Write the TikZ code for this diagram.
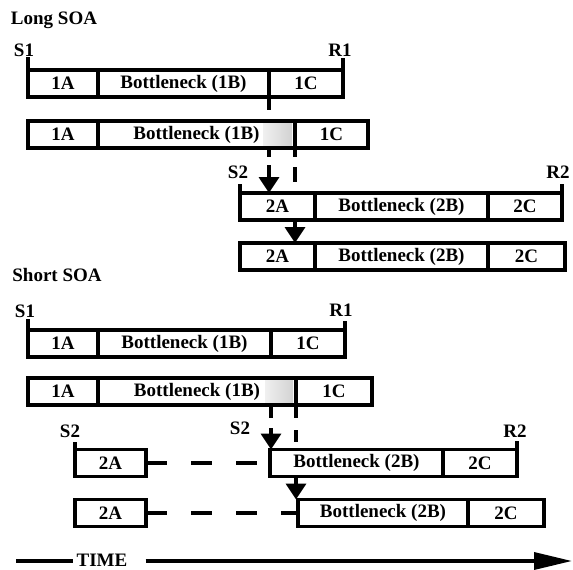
\documentclass[tikz,border=0pt]{standalone}
\usepackage{fontspec}
\setmainfont{Liberation Serif}
\usetikzlibrary{arrows.meta}

\begin{document}
\begin{tikzpicture}[x=1pt, y=-1pt,
    every node/.style={font=\fontsize{19}{20}\selectfont\bfseries},
    cell/.style={draw, line width=3.5pt, minimum height=27pt, inner sep=0pt, outer sep=0pt},
    bar/.style={line width=3.5pt},
    dashbar/.style={line width=3.5pt, dash pattern=on 21pt off 24pt},
    downarrow/.style={line width=3.5pt, -{Triangle[width=20pt, length=16pt]}}]
  \useasboundingbox (0,0) rectangle (573,570);
  % grey ends of the bottleneck stages
  \shade[left color=gray!12, right color=gray!35] (263,122.75) rectangle (292,146.25);
  \shade[left color=gray!12, right color=gray!35] (265,379.75) rectangle (293,403.25);
  % stages
  \foreach \nm/\xa/\xb/\yc/\txt in {
      a1/28/98/83.5/1A, b1/98/269/83.5/Bottleneck (1B), c1/269/343/83.5/1C,
      a2/28/98/134.5/1A, b2/98/295/134.5/Bottleneck (1B), c2/295/368/134.5/1C,
      a3/240/315/206.5/2A, b3/315/488/206.5/Bottleneck (2B), c3/488/562/206.5/2C,
      a4/240/315/256.5/2A, b4/315/488/256.5/Bottleneck (2B), c4/488/565/256.5/2C,
      a5/28/98/343.5/1A, b5/98/271/343.5/Bottleneck (1B), c5/271/345/343.5/1C,
      a6/28/98/391.5/1A, b6/98/296/391.5/Bottleneck (1B), c6/296/372/391.5/1C,
      a7/75/146/463/2A, b7/270/443/463/Bottleneck (2B), c7/443/517/463/2C,
      a8/75/146/513/2A, b8/298/468/513/Bottleneck (2B), c8/468/544/513/2C} {
    \node[cell, minimum width={(\xb-\xa)*1pt}] (\nm) at ({(\xa+\xb)/2},\yc) {\txt};
  }
  % labels
  \node (longsoa) at (54,20) {Long SOA};
  \node (shortsoa) at (57,275) {Short SOA};
  \node (s1l) at (24,50) {S1};
  \node (r1l) at (340,50) {R1};
  \node (s2l) at (238,172) {S2};
  \node (r2l) at (558,172) {R2};
  \node (s1s) at (25,311) {S1};
  \node (r1s) at (341,310) {R1};
  \node (s2sa) at (70,431) {S2};
  \node (s2sb) at (240,428) {S2};
  \node (r2s) at (515,431) {R2};
  % onset and response ticks
  \draw[bar] (a1.north west) -- ++(0,-13);
  \draw[bar] (c1.north east) -- ++(0,-12);
  \draw[bar] (c1.south west) -- ++(0,13);
  \draw[bar] (a3.north west) -- ++(0,-9);
  \draw[bar] (c3.north east) -- ++(0,-9);
  \draw[bar] (a5.north west) -- ++(0,-11);
  \draw[bar] (c5.north east) -- ++(0,-9);
  \draw[bar] (a7.north west) -- ++(0,-8);
  \draw[bar] (c7.north east) -- ++(0,-9);
  % long SOA
  \draw[bar] (c1.west |- b2.south) -- ++(0,9);
  \coordinate (la) at (269,165);
  \draw[downarrow] (la) -- (c1.west |- a3.north);
  \draw[bar, dash pattern=on 9pt off 10pt on 15pt off 30pt] (c2.south west) -- ++(0,34);
  \draw[downarrow] (c2.west |- b3.south) -- (c2.west |- b4.north);
  % short SOA
  \draw[bar] (c5.west |- b6.south) -- ++(0,13);
  \coordinate (sa) at (271,428);
  \draw[downarrow] (sa) -- (c5.west |- b7.north);
  \draw[bar, dash pattern=on 13pt off 12pt on 12pt off 30pt] (c6.south west) -- ++(0,37);
  \draw[downarrow] (c6.west |- b7.south) -- (c6.west |- b8.north);
  \draw[dashbar] (a7.east) -- (b7.west);
  \draw[dashbar] (a8.east) -- (b8.west);
  % time axis
  \node[inner sep=0pt] (time) at (102,560) {TIME};
  \coordinate (t0) at (16,561);
  \coordinate (t1) at (572,561);
  \draw[bar] (t0) -- ([xshift=-3pt]time.west |- t0);
  \draw[bar, -{Triangle[width=17pt, length=38pt]}] ([xshift=18pt]time.east |- t1) -- (t1);
\end{tikzpicture}
\end{document}
